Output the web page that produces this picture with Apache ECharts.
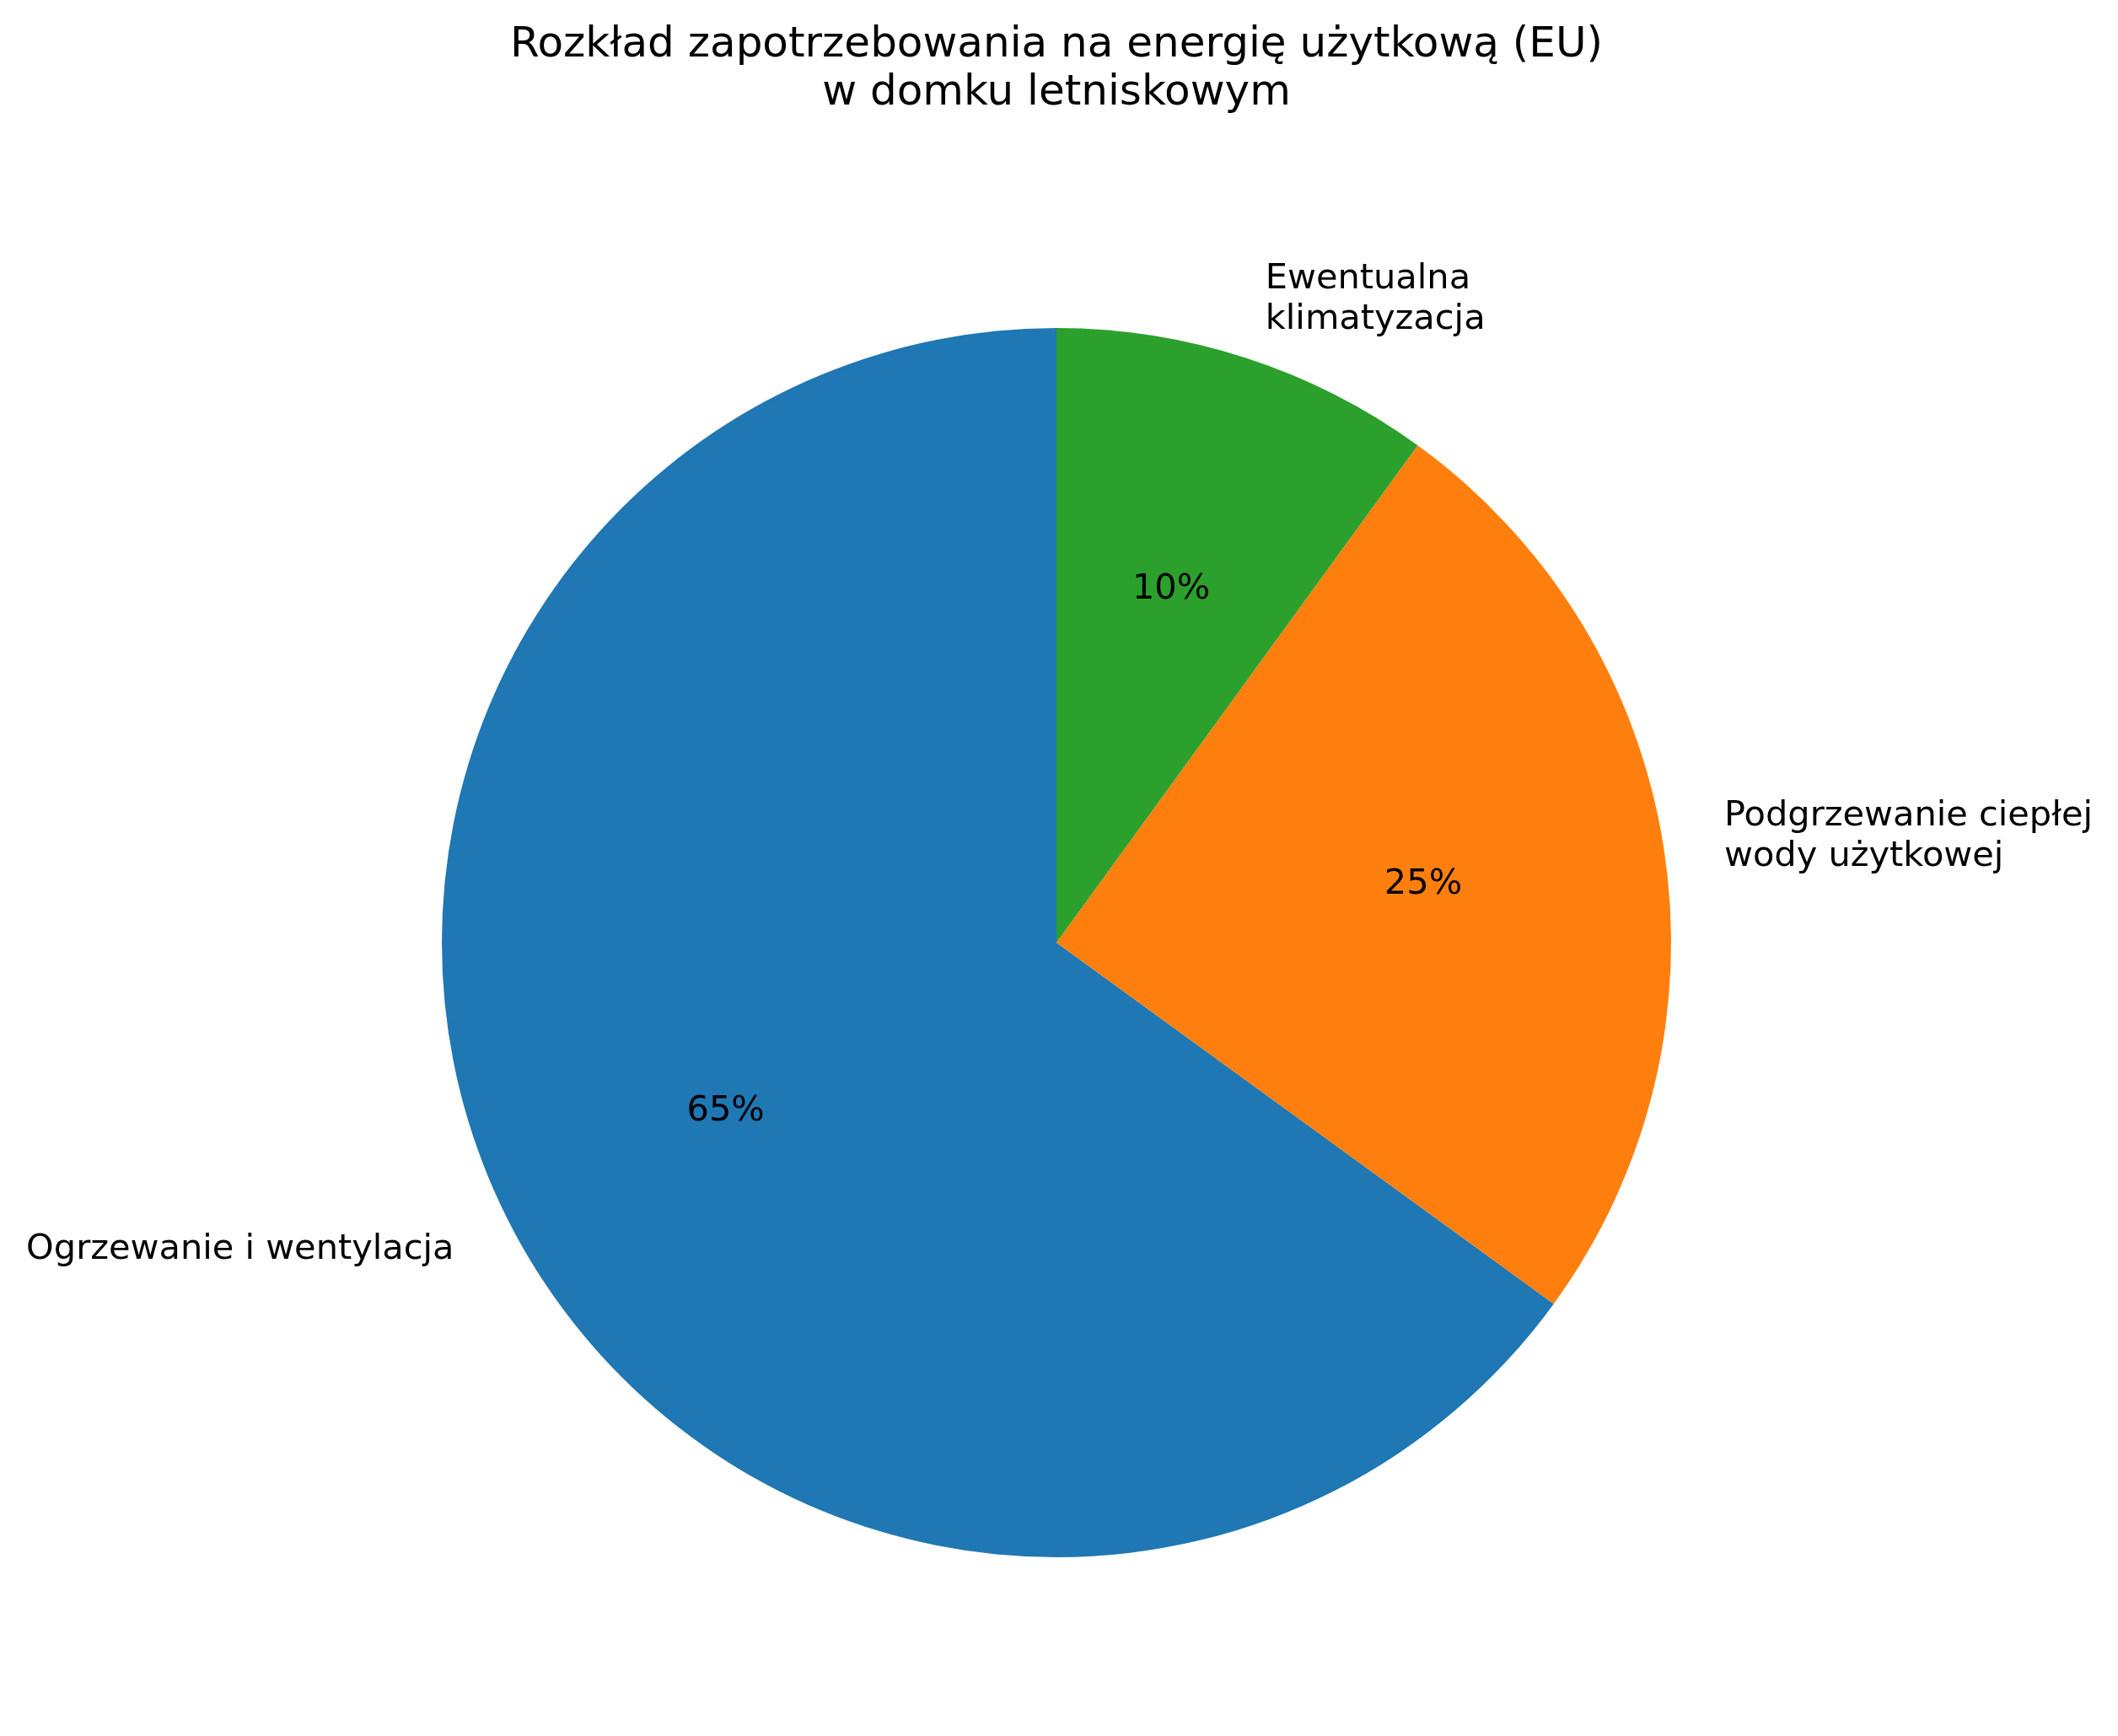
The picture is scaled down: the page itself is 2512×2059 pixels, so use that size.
<!DOCTYPE html>
<html>
<head>
<meta charset="utf-8">
<script src="https://cdn.jsdelivr.net/npm/echarts@6/dist/echarts.min.js"></script>
<style>
  html, body { margin: 0; padding: 0; background: #ffffff; }
  #chart { width: 2512px; height: 2059px; }
</style>
</head>
<body>
<div id="chart"></div>
<script>
// ---- data ----
const titleText = 'Rozkład zapotrzebowania na energię użytkową (EU)\nw domku letniskowym';
const categories = ['Ogrzewanie i wentylacja', 'Podgrzewanie ciepłej\nwody użytkowej', 'Ewentualna\nklimatyzacja'];
const values = [65, 25, 10];
const colors = ['#1f77b4', '#ff7f0e', '#2ca02c'];

// ---- layout ----
const CX = 1253, CY = 1118, R = 729;
const FONT = '"DejaVu Sans", sans-serif';

const pieData = categories.map((c, i) => ({ name: c, value: values[i], itemStyle: { color: colors[i] } }));
const pctData = categories.map((c, i) => ({ name: c, value: values[i] }));

const chart = echarts.init(document.getElementById('chart'), null, { renderer: 'canvas' });
chart.setOption({
  backgroundColor: '#ffffff',
  animation: false,
  title: {
    text: titleText,
    left: CX,
    top: 26,
    padding: 0,
    textAlign: 'center',
    textStyle: {
      fontFamily: FONT,
      fontSize: 50,
      fontWeight: 'normal',
      lineHeight: 57,
      color: '#000000'
    }
  },
  series: [
    {
      type: 'pie',
      center: [CX, CY],
      radius: [0, R],
      startAngle: 90,
      clockwise: false,
      avoidLabelOverlap: false,
      silent: true,
      data: pieData,
      itemStyle: { borderWidth: 0 },
      label: {
        show: true,
        position: 'outside',
        formatter: '{b}',
        fontFamily: FONT,
        fontSize: 41.5,
        lineHeight: 48,
        color: '#000000',
        distanceToLabelLine: 0,
        width: 700,
        overflow: 'none'
      },
      labelLine: { show: false, length: R * 0.1, length2: 0 },
      emphasis: { disabled: true }
    },
    {
      type: 'pie',
      center: [CX, CY],
      radius: [R * 0.2, R],
      startAngle: 90,
      clockwise: false,
      avoidLabelOverlap: false,
      silent: true,
      data: pctData,
      itemStyle: { color: 'rgba(0,0,0,0)', borderWidth: 0 },
      label: {
        show: true,
        position: 'inside',
        formatter: '{d}%',
        fontFamily: FONT,
        fontSize: 41.5,
        color: '#000000'
      },
      labelLine: { show: false },
      emphasis: { disabled: true }
    }
  ]
});
</script>
</body>
</html>
